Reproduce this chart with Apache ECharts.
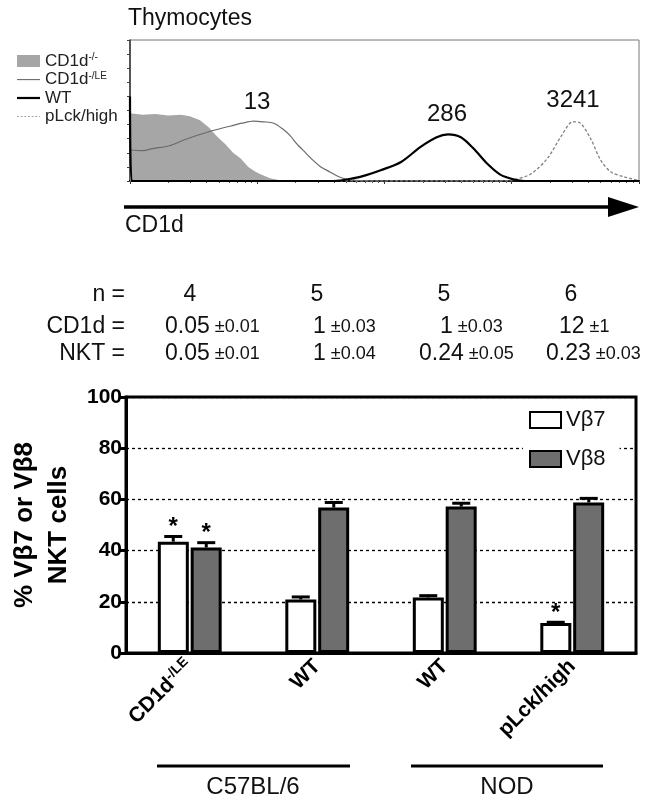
<!DOCTYPE html>
<html><head><meta charset="utf-8">
<script src="https://cdn.jsdelivr.net/npm/echarts@6/dist/echarts.min.js"></script>
<style>html,body{margin:0;padding:0;background:#fff}#c{width:655px;height:798px}</style>
</head><body><div id="c"></div>
<script>
const FONT = '"Liberation Sans", Arial, Helvetica, sans-serif';

// ---- Histogram (thymocytes, CD1d fluorescence vs relative count) ----
const koX = [1, 1.26, 1.58, 2.0, 2.51, 2.95, 3.55, 4.17, 4.79, 5.62, 6.46, 7.41, 8.51, 9.55, 10.5, 12.6, 15.1, 17.8, 10000];
const koY = [0.48, 0.47, 0.475, 0.465, 0.47, 0.46, 0.43, 0.38, 0.32, 0.26, 0.2, 0.16, 0.1, 0.07, 0.05, 0.02, 0.005, 0, 0];
const leX = [1, 1.26, 1.51, 2.04, 2.82, 3.55, 4.57, 6.17, 7.59, 9.33, 11.2, 13.5, 15.8, 18.2, 20.4, 24.0, 27.5, 31.6, 37.2, 43.7, 51.3, 63.1, 100, 10000];
const leY = [0.22, 0.215, 0.23, 0.25, 0.3, 0.33, 0.36, 0.39, 0.41, 0.425, 0.42, 0.41, 0.37, 0.32, 0.265, 0.2, 0.146, 0.1, 0.064, 0.03, 0.012, 0.003, 0, 0];
const wtX = [1, 1.03, 39.8, 57.5, 70.8, 93.3, 135, 191, 257, 316, 398, 501, 646, 813, 1047, 1259, 10000];
const wtY = [0.6, 0, 0, 0.02, 0.04, 0.076, 0.135, 0.24, 0.31, 0.33, 0.31, 0.23, 0.12, 0.045, 0.01, 0, 0];
const pX = [1, 794, 1047, 1413, 1905, 2455, 3020, 3467, 4169, 5012, 6026, 7586, 9772, 10000];
const pY = [0, 0, 0.01, 0.05, 0.16, 0.32, 0.42, 0.41, 0.3, 0.146, 0.064, 0.03, 0.005, 0.003];
const histNames = ['CD1d-/-', 'CD1d-/LE', 'WT', 'pLck/high'];
const histMain = ['CD1d', 'CD1d', 'WT', 'pLck/high'];
const histSup = ['-/-', '-/LE', '', ''];
const peakLabels = ['13', '286', '3241'];

// ---- Table ----
const nRow = ['4', '5', '5', '6'];
const cd1dVal = ['0.05', '1', '1', '12'];
const cd1dErr = ['±0.01', '±0.03', '±0.03', '±1'];
const nktVal = ['0.05', '1', '0.24', '0.23'];
const nktErr = ['±0.01', '±0.04', '±0.05', '±0.03'];
const rowLabels = ['n =', 'CD1d =', 'NKT ='];

// ---- Bar chart ----
const catMain = ['CD1d', 'WT', 'WT', 'pLck/high'];
const catSup = ['-/LE', '', '', ''];
const vb7 = [43.5, 20.9, 21.7, 11.7];
const vb7Err = [2.0, 1.0, 0.7, 0.3];
const vb8 = [41.2, 56.8, 57.2, 58.8];
const vb8Err = [1.9, 2.0, 1.3, 1.6];
const sig7 = [1, 0, 0, 1];
const sig8 = [1, 0, 0, 0];
const strains = ['C57BL/6', 'NOD'];

const pairs = (xs, ys) => xs.map((x, i) => [x, ys[i]]);
const chart = echarts.init(document.getElementById('c'), null, {renderer: 'canvas'});

function errRender(offset) {
  return function (params, api) {
    const x = api.value(0), v = api.value(1), e = api.value(2), s = api.value(3);
    const b = api.coord([x, v]), t = api.coord([x, v + e]);
    const cx = b[0] + offset;
    const ch = [
      {type: 'line', shape: {x1: cx, y1: b[1], x2: cx, y2: t[1]}, style: {stroke: '#000', lineWidth: 3}},
      {type: 'line', shape: {x1: cx - 9, y1: t[1], x2: cx + 9, y2: t[1]}, style: {stroke: '#000', lineWidth: 3}}
    ];
    if (s) ch.push({type: 'text', x: cx, y: t[1] + 3, style: {text: '*', fontFamily: FONT, fontSize: 24, fontWeight: 'bold', fill: '#000', align: 'center', verticalAlign: 'bottom'}});
    return {type: 'group', children: ch};
  };
}

const txt = (x, y, text, size, extra) => ({type: 'text', x: x, y: y, style: Object.assign({text: text, fontFamily: FONT, fontSize: size, fill: '#111', align: 'left', verticalAlign: 'middle'}, extra || {})});

const colX = [190, 317, 444, 571];
const cd1dX = [165, 313, 440, 559];
const nktX = [165, 313, 419, 546];
const rowY = [295, 327, 354];
const tableRich = {m: {fontSize: 23, fontFamily: FONT, fill: '#111', color: '#111'}, s: {fontSize: 18, fontFamily: FONT, fill: '#111', color: '#111'}};

const graphics = [
  txt(128, 19, 'Thymocytes', 23),
  txt(257, 102, peakLabels[0], 24, {align: 'center'}),
  txt(447, 114, peakLabels[1], 24, {align: 'center'}),
  txt(573, 100, peakLabels[2], 24, {align: 'center'}),
  {type: 'line', shape: {x1: 124, y1: 207, x2: 612, y2: 207}, style: {stroke: '#000', lineWidth: 3.5}},
  {type: 'polygon', shape: {points: [[608, 197], [639, 207], [608, 217]]}, style: {fill: '#000'}},
  txt(125, 226, 'CD1d', 23),
  txt(125, rowY[0], rowLabels[0], 23, {align: 'right'}),
  txt(125, rowY[1], rowLabels[1], 23, {align: 'right'}),
  txt(125, rowY[2], rowLabels[2], 23, {align: 'right'}),
  {type: 'line', shape: {x1: 157, y1: 766, x2: 350, y2: 766}, style: {stroke: '#000', lineWidth: 3}},
  {type: 'line', shape: {x1: 411, y1: 766, x2: 603, y2: 766}, style: {stroke: '#000', lineWidth: 3}},
  txt(253, 787, strains[0], 24, {align: 'center'}),
  txt(507, 787, strains[1], 24, {align: 'center'})
];
nRow.forEach((v, i) => graphics.push(txt(colX[i], rowY[0], v, 23, {align: 'center'})));
cd1dVal.forEach((v, i) => graphics.push({type: 'text', x: cd1dX[i], y: rowY[1], style: {text: '{m|' + v + '} {s|' + cd1dErr[i] + '}', rich: tableRich, verticalAlign: 'middle', fontFamily: FONT, fontSize: 18}}));
nktVal.forEach((v, i) => graphics.push({type: 'text', x: nktX[i], y: rowY[2], style: {text: '{m|' + nktVal[i] + '} {s|' + nktErr[i] + '}', rich: tableRich, verticalAlign: 'middle', fontFamily: FONT, fontSize: 18}}));

const legendRich = {a: {fontSize: 17, fontFamily: FONT, color: '#222'}, s: {fontSize: 10, fontFamily: FONT, color: '#222', padding: [0, 0, 7, 0]}};
const catRich = {a: {fontSize: 21, fontWeight: 'bold', fontFamily: FONT, color: '#000'}, s: {fontSize: 14, fontWeight: 'bold', fontFamily: FONT, color: '#000', padding: [0, 0, 10, 0]}};

const thinLine = 'path://M0,0 M25,12 M0,5.5 L25,5.5 L25,6.7 L0,6.7 Z';
const thickLine = 'path://M0,0 M25,12 M0,4.8 L25,4.8 L25,7.2 L0,7.2 Z';
const dotLine = 'path://M0,0 M25,12 M0,5.6 h2 v0.9 h-2 Z M4,5.6 h2 v0.9 h-2 Z M8,5.6 h2 v0.9 h-2 Z M12,5.6 h2 v0.9 h-2 Z M16,5.6 h2 v0.9 h-2 Z M20,5.6 h2 v0.9 h-2 Z M24,5.6 h1 v0.9 h-1 Z';

const option = {
  animation: false,
  backgroundColor: '#fff',
  textStyle: {fontFamily: FONT},
  grid: [
    {left: 130, top: 40, width: 509, height: 141, show: true, borderColor: '#777', borderWidth: 1, backgroundColor: 'transparent'},
    {left: 125, top: 397, width: 511, height: 256, show: true, borderColor: '#000', borderWidth: 3, backgroundColor: 'transparent'}
  ],
  xAxis: [
    {gridIndex: 0, type: 'log', logBase: 10, min: 1, max: 10000,
     axisLine: {lineStyle: {color: '#000', width: 2}}, axisLabel: {show: false},
     axisTick: {show: true, length: 3, lineStyle: {color: '#333'}},
     minorTick: {show: true, splitNumber: 9, length: 2, lineStyle: {color: '#555'}},
     splitLine: {show: false}},
    {gridIndex: 1, type: 'category', data: catMain, boundaryGap: true,
     axisLine: {onZero: false, lineStyle: {color: '#000', width: 3}},
     axisTick: {show: false}, splitLine: {show: false},
     axisLabel: {show: true, interval: 0, rotate: 45, margin: 10,
       formatter: (v, i) => '{a|' + catMain[i] + '}' + (catSup[i] ? '{s|' + catSup[i] + '}' : ''),
       rich: catRich}}
  ],
  yAxis: [
    {gridIndex: 0, type: 'value', min: 0, max: 1, interval: 0.1,
     axisLine: {show: true, onZero: false, lineStyle: {color: '#333', width: 1.5}}, axisLabel: {show: false},
     axisTick: {show: true, inside: false, length: 3, lineStyle: {color: '#444'}}, splitLine: {show: false}},
    {gridIndex: 1, type: 'value', min: 0, max: 100, interval: 20,
     name: '% Vβ7 or Vβ8\nNKT cells', nameLocation: 'middle', nameGap: 50,
     nameTextStyle: {fontSize: 26, fontWeight: 'bold', color: '#000', lineHeight: 34, fontFamily: FONT},
     axisLine: {show: true, onZero: false, lineStyle: {color: '#000', width: 3}},
     axisTick: {show: true, length: 7, lineStyle: {color: '#000', width: 3}},
     axisLabel: {fontSize: 21, fontWeight: 'bold', color: '#000', margin: 4, fontFamily: FONT},
     splitLine: {show: true, lineStyle: {color: '#000', width: 1.3, type: [3, 3]}}}
  ],
  legend: [
    {left: 12, top: 47, orient: 'vertical', itemWidth: 23, itemHeight: 12, itemGap: 0.5, selectedMode: false,
     data: [{name: histNames[0], icon: 'rect'}, {name: histNames[1], icon: thinLine},
            {name: histNames[2], icon: thickLine}, {name: histNames[3], icon: dotLine}],
     formatter: (n) => { const i = histNames.indexOf(n); return '{a|' + histMain[i] + '}' + (histSup[i] ? '{s|' + histSup[i] + '}' : ''); },
     textStyle: {rich: legendRich, lineHeight: 18}, itemTextGap: 15},
    {left: 523, top: 407, orient: 'vertical', itemWidth: 31, itemHeight: 16, itemGap: 17, selectedMode: false,
     backgroundColor: '#fff', padding: [2, 14, 2, 6], itemTextGap: 22, icon: 'rect',
     data: ['Vβ7', 'Vβ8'],
     textStyle: {fontSize: 22, color: '#111', fontFamily: FONT}}
  ],
  series: [
    {name: histNames[0], type: 'line', xAxisIndex: 0, yAxisIndex: 0, data: pairs(koX, koY), symbol: 'none',
     color: '#a6a6a6', lineStyle: {width: 0}, areaStyle: {color: '#a6a6a6', opacity: 1}, z: 1},
    {name: histNames[1], type: 'line', xAxisIndex: 0, yAxisIndex: 0, data: pairs(leX, leY), symbol: 'none', smooth: 0.3,
     color: '#6a6a6a', lineStyle: {width: 1.2, color: '#6a6a6a'}, z: 2},
    {name: histNames[2], type: 'line', xAxisIndex: 0, yAxisIndex: 0, data: pairs(wtX, wtY), symbol: 'none', smooth: 0.3,
     color: '#000', lineStyle: {width: 2.2, color: '#000'}, z: 3},
    {name: histNames[3], type: 'line', xAxisIndex: 0, yAxisIndex: 0, data: pairs(pX, pY), symbol: 'none', smooth: 0.3,
     color: '#808080', lineStyle: {width: 1.3, color: '#808080', type: [3, 2]}, z: 2},
    {name: 'Vβ7', type: 'bar', xAxisIndex: 1, yAxisIndex: 1, data: vb7,
     barWidth: 31, barGap: '6%', color: '#fff', itemStyle: {color: '#fff', borderColor: '#000', borderWidth: 3}, z: 3},
    {name: 'Vβ8', type: 'bar', xAxisIndex: 1, yAxisIndex: 1, data: vb8,
     barWidth: 31, barGap: '6%', color: '#6e6e6e', itemStyle: {color: '#6e6e6e', borderColor: '#000', borderWidth: 3}, z: 3},
    {type: 'custom', xAxisIndex: 1, yAxisIndex: 1, renderItem: errRender(-16.5), z: 4,
     data: vb7.map((v, i) => [i, v, vb7Err[i], sig7[i]])},
    {type: 'custom', xAxisIndex: 1, yAxisIndex: 1, renderItem: errRender(16.5), z: 4,
     data: vb8.map((v, i) => [i, v, vb8Err[i], sig8[i]])}
  ],
  graphic: graphics
};
chart.setOption(option);
</script></body></html>
